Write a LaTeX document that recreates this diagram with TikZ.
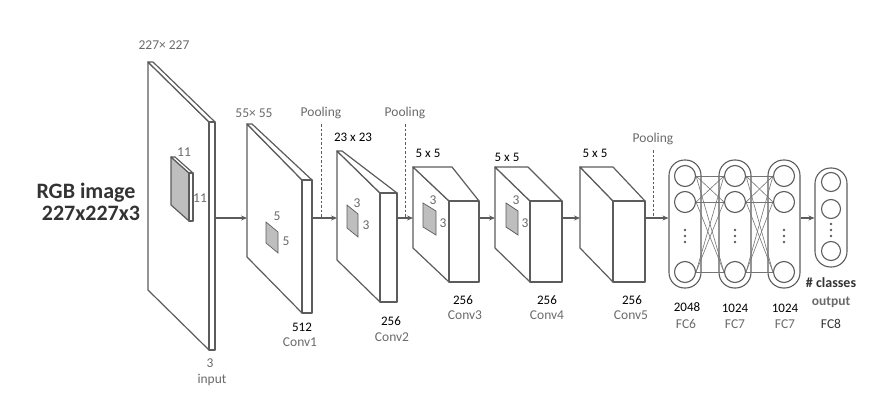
\documentclass[tikz,border=0pt]{standalone}
\usepackage{fontspec}
\setmainfont{Carlito}
\usetikzlibrary{arrows.meta}

\definecolor{edge}{HTML}{5C5C5C}
\definecolor{label}{HTML}{6A6A6A}
\definecolor{kern}{HTML}{BEBEBE}

\tikzset{
  layer/.style={draw=edge, line width=1.2pt, line join=round},
  flow/.style={draw=edge, line width=1.2pt, -{Stealth[length=6pt,width=5pt]}},
  pool/.style={draw=edge, line width=1pt, dash pattern=on 2.5pt off 2pt},
  dim/.style={text=label, font=\fontsize{13.5}{15}\selectfont, inner sep=0pt},
  num/.style={text=black, font=\fontsize{13}{15}\selectfont, inner sep=0pt},
  neuron/.style={circle, draw=edge, line width=1.1pt, minimum size=21pt, inner sep=0pt},
  capsule/.style={draw=edge, line width=1.1pt, rounded corners=15.5pt, minimum width=32pt, inner sep=0pt},
  wire/.style={draw=edge!85, line width=0.6pt},
}

% block: [fill]{left x}{top y}{bottom y}{dx}{dy}{side width}{top width}
\newcommand{\convblock}[8][white]{%
  \filldraw[layer, fill=#1] (#2,#3) -- ({#2+#5},{#3+#6}) -- ({#2+#5},{#4+#6}) -- (#2,#4) -- cycle;
  \filldraw[layer, fill=white] (#2,#3) -- ({#2+#8},#3) -- ({#2+#5+#7},{#3+#6}) -- ({#2+#5},{#3+#6}) -- cycle;
  \filldraw[layer, fill=white] ({#2+#5},{#3+#6}) rectangle ({#2+#5+#7},{#4+#6});
}
% kernel patch: {left x}{top y}{bottom y}{dx}{dy}
\newcommand{\kernel}[5]{%
  \filldraw[draw=edge, line width=0.7pt, fill=kern] (#1,#2) -- ({#1+#4},{#2+#5}) -- ({#1+#4},{#3+#5}) -- (#1,#3) -- cycle;
}
% three vertical dots around a named coordinate
\newcommand{\skipdots}[1]{%
  \foreach \d in {-6,0,6} \fill[edge] ([yshift=\d pt]#1) circle (1.3pt);
}

\begin{document}
\begin{tikzpicture}[x=1pt, y=-1pt]
  \useasboundingbox (0,0) rectangle (885,412);

  % conv part
  \convblock{148}{62}{290}{61}{60}{6}{5}
  \convblock[kern]{171}{157}{205}{18}{16}{4}{4}
  \convblock{247}{124}{257}{55}{56}{10}{5}
  \kernel{266}{222}{243}{12}{10}
  \convblock{337}{151}{260}{43}{42}{17}{5}
  \kernel{347}{205}{228}{11}{9}
  \convblock{413}{167}{248}{36}{34}{30}{39}
  \kernel{423}{203}{227}{13}{8}
  \convblock{495}{167}{248}{35}{34}{32}{33}
  \kernel{506}{203}{227}{12}{8}
  \convblock{580}{167}{248}{33}{34}{32}{33}

  \coordinate (in-r) at (215,218);
  \coordinate (c1-l) at (247,218);
  \coordinate (c1-r) at (312,218);
  \coordinate (c2-l) at (337,218);
  \coordinate (c2-r) at (397,218);
  \coordinate (c3-l) at (413,218);
  \coordinate (c3-r) at (479,218);
  \coordinate (c4-l) at (495,218);
  \coordinate (c4-r) at (562,218);
  \coordinate (c5-l) at (580,218);
  \coordinate (c5-r) at (645,218);

  % fully connected part
  \node[capsule, minimum height=128pt] (fc6) at (685,224) {};
  \node[capsule, minimum height=128pt] (fc7a) at (735,224) {};
  \node[capsule, minimum height=128pt] (fc7b) at (784,224) {};
  \node[capsule, minimum height=99pt] (fc8) at (831,217.5) {};
  \foreach \n/\x in {f6/685, f7a/735, f7b/784} {
    \node[neuron] (\n-1) at (\x,176) {};
    \node[neuron] (\n-2) at (\x,202) {};
    \node[neuron] (\n-3) at (\x,272) {};
    \coordinate (\n-d) at (\x,236);
    \skipdots{\n-d}
  }
  \node[neuron, minimum size=19pt] (f8-1) at (831,182) {};
  \node[neuron, minimum size=19pt] (f8-2) at (831,209) {};
  \node[neuron, minimum size=19pt] (f8-3) at (831,251) {};
  \coordinate (f8-d) at (831,230);
  \skipdots{f8-d}
  \foreach \a in {1,2,3} {
    \foreach \b in {1,2,3} {
      \draw[wire] (f6-\a.east) -- (f7a-\b.west);
      \draw[wire] (f7a-\a.east) -- (f7b-\b.west);
    }
  }

  % arrows
  \draw[flow] (in-r) -- (c1-l);
  \draw[flow] (c1-r) -- (c2-l);
  \draw[flow] (c2-r) -- (c3-l);
  \draw[flow] (c3-r) -- (c4-l);
  \draw[flow] (c4-r) -- (c5-l);
  \draw[flow] (c5-r) -- (c5-r -| fc6.west);
  \draw[flow] (c5-r -| fc7b.east) -- (c5-r -| fc8.west);

  % pooling
  \node[dim] (pool1) at (321,113) {Pooling};
  \node[dim] (pool2) at (405,113) {Pooling};
  \node[dim] (pool3) at (653,139) {Pooling};
  \draw[pool] ([yshift=-5pt]pool1.south) -- (pool1.south |- c1-r);
  \draw[pool] ([yshift=-5pt]pool2.south) -- (pool2.south |- c2-r);
  \draw[pool] ([yshift=-5pt]pool3.south) -- (pool3.south |- c5-r);

  % labels
  \node[text=black!80, font=\fontsize{22}{26}\selectfont\bfseries, inner sep=0pt] (rgb) at (86,193) {RGB image};
  \node[text=black!80, font=\fontsize{22}{26}\selectfont\bfseries, inner sep=0pt] (rgbsize) at (91,213) {227x227x3};
  \node[dim] (in-dim) at (164,45) {227× 227};
  \node[dim] (k1a) at (184,152) {11};
  \node[dim] (k1b) at (200,198) {11};
  \node[dim] (in-depth) at (210,363) {3};
  \node[dim] (in-name) at (212,380) {input};

  \node[dim] (c1-dim) at (254,113) {55× 55};
  \node[dim] (k2a) at (277,216) {5};
  \node[dim] (k2b) at (286,241) {5};
  \node[num] (c1-depth) at (302,327) {512};
  \node[dim] (c1-name) at (300,342) {Conv1};

  \node[num] (c2-dim) at (353,137) {23 x 23};
  \node[dim] (k3a) at (357,203) {3};
  \node[dim] (k3b) at (366,225) {3};
  \node[num] (c2-depth) at (391,321) {256};
  \node[dim] (c2-name) at (392,337) {Conv2};

  \node[num] (c3-dim) at (428,153) {5 x 5};
  \node[dim] (k4a) at (433,200) {3};
  \node[dim] (k4b) at (443,223) {3};
  \node[num] (c3-depth) at (463,300) {256};
  \node[dim] (c3-name) at (465,315) {Conv3};

  \node[num] (c4-dim) at (507,157) {5 x 5};
  \node[dim] (k5a) at (516,200) {3};
  \node[dim] (k5b) at (525,223) {3};
  \node[num] (c4-depth) at (547,300) {256};
  \node[dim] (c4-name) at (547,315) {Conv4};

  \node[num] (c5-dim) at (595,153) {5 x 5};
  \node[num] (c5-depth) at (632,300) {256};
  \node[dim] (c5-name) at (631,315) {Conv5};

  \node[num] (fc6-size) at (687,307) {2048};
  \node[dim] (fc6-name) at (686,324) {FC6};
  \node[num] (fc7a-size) at (735,308) {1024};
  \node[dim] (fc7a-name) at (735,324) {FC7};
  \node[num] (fc7b-size) at (785,308) {1024};
  \node[dim] (fc7b-name) at (785,324) {FC7};
  \node[text=black!80, font=\fontsize{14}{16}\selectfont\bfseries, inner sep=0pt] (fc8-classes) at (831,283) {\# classes};
  \node[dim, font=\fontsize{13.5}{15}\selectfont\bfseries] (fc8-out) at (831,302) {output};
  \node[dim, text=black!80] (fc8-name) at (831,324) {FC8};
\end{tikzpicture}
\end{document}
